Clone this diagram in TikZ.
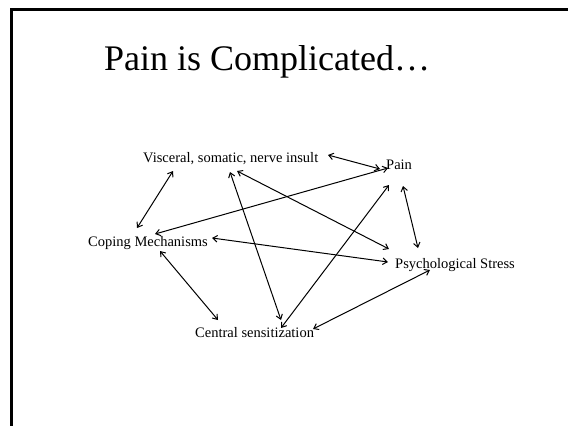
\documentclass[tikz,border=0pt]{standalone}
\usepackage{fontspec}
\setmainfont{Liberation Serif}
\usetikzlibrary{arrows.meta,calc}
\begin{document}
\begin{tikzpicture}[x=1pt,y=-1pt,
  label/.style={inner sep=0pt,anchor=base west,font=\fontsize{14.5}{17}\selectfont},
  link/.style={line width=1pt,{Straight Barb[length=4.5pt,width=6.5pt]}-{Straight Barb[length=4.5pt,width=6.5pt]}}]
\useasboundingbox (0,0) rectangle (568,426);
% slide frame
\draw[line width=2.6pt,line cap=rect] (568,9.3) -- (11.3,9.3) -- (11.3,426);
% title
\node[inner sep=0pt,anchor=base,font=\fontsize{36}{40}\selectfont] (title) at (267,70) {Pain is Complicated…};
% factors
\node[label] (vis) at (143,162) {Visceral, somatic, nerve insult};
\node[label] (pain) at (386,169) {Pain};
\node[label] (cop) at (88,246) {Coping Mechanisms};
\node[label] (psy) at (395,268) {Psychological Stress};
\node[label] (cen) at (195,337) {Central sensitization};
% two-way influences
\draw[link] ($(vis.base west)+(30,9)$) -- ($(cop.base west)+(49,-18)$);
\draw[link] ($(vis.base west)+(185,-7)$) -- ($(pain.base west)+(-6,0)$);
\draw[link] ($(pain.base west)+(2,-1)$) -- ($(cop.base west)+(67,-12)$);
\draw[link] ($(vis.base west)+(94,9)$) -- ($(psy.base west)+(-6,-19)$);
\draw[link] ($(vis.base west)+(87,10)$) -- ($(cen.base west)+(86,-17)$);
\draw[link] ($(pain.base west)+(17,17)$) -- ($(psy.base west)+(23,-20)$);
\draw[link] ($(cop.base west)+(124,-8)$) -- ($(psy.base west)+(-7,-6)$);
\draw[link] ($(cop.base west)+(72,5)$) -- ($(cen.base west)+(23,-17)$);
\draw[link] ($(pain.base west)+(3,16)$) -- ($(cen.base west)+(86,-9)$);
\draw[link] ($(cen.base west)+(118,-8)$) -- ($(psy.base west)+(35,2)$);
\end{tikzpicture}
\end{document}
